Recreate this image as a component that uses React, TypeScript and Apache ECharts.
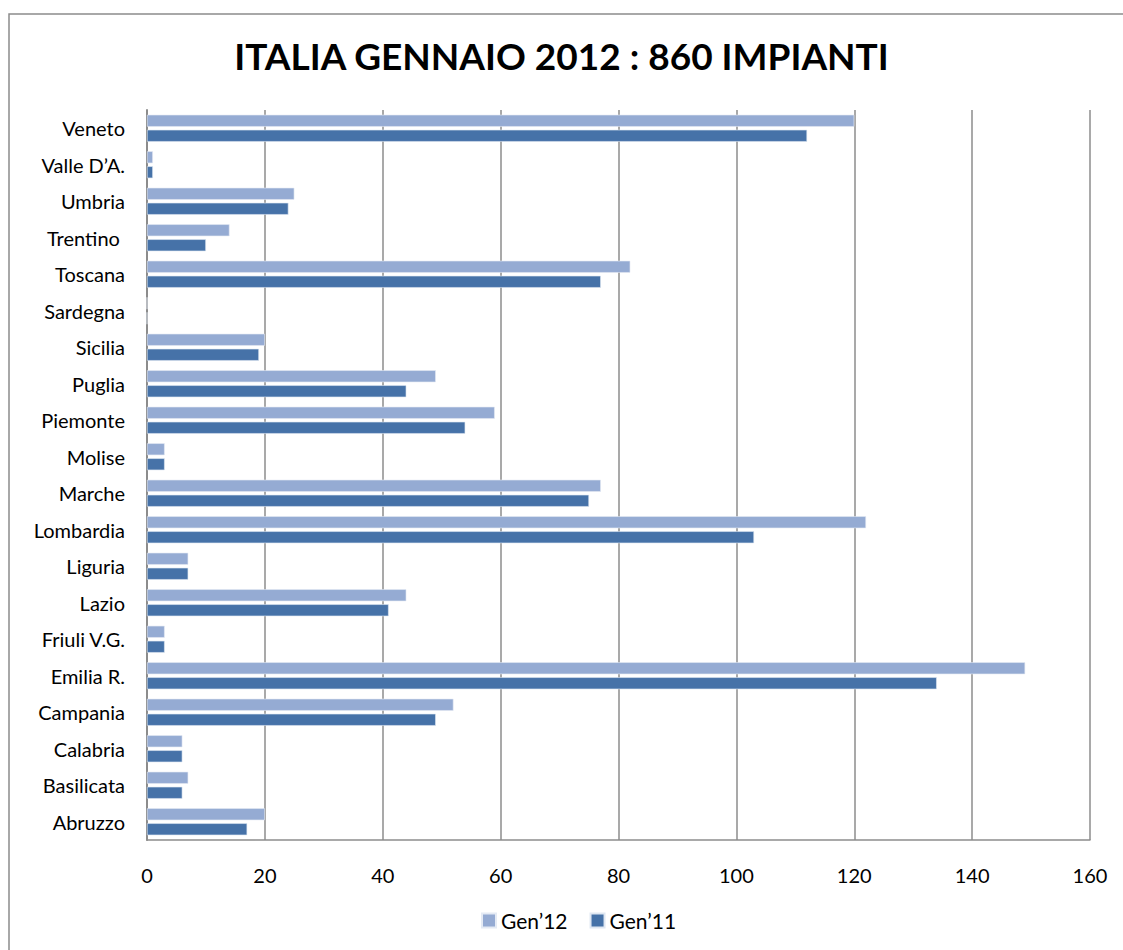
import React, { useEffect, useRef } from "react";
import * as echarts from "echarts";

const categories = [
  "Abruzzo", "Basilicata", "Calabria", "Campania", "Emilia R.", "Friuli V.G.",
  "Lazio", "Liguria", "Lombardia", "Marche", "Molise", "Piemonte", "Puglia",
  "Sicilia", "Sardegna", "Toscana", "Trentino ", "Umbria", "Valle D’A.", "Veneto",
];
const gen12 = [20, 7, 6, 52, 149, 3, 44, 7, 122, 77, 3, 59, 49, 20, 0, 82, 14, 25, 1, 120];
const gen11 = [17, 6, 6, 49, 134, 3, 41, 7, 103, 75, 3, 54, 44, 19, 0, 77, 10, 24, 1, 112];
const xTicks = { min: 0, max: 160, interval: 20 };
const seriesNames = ["Gen’12", "Gen’11"];

const FONT = "Lato, 'Open Sans', sans-serif";

export default function App() {
  const ref = useRef<HTMLDivElement>(null);
  useEffect(() => {
    document.body.style.margin = "0";
    const chart = echarts.init(ref.current!, null, { renderer: "svg" });
    chart.setOption({
      animation: false,
      backgroundColor: "#ffffff",
      textStyle: { fontFamily: FONT },
      title: {
        text: "ITALIA GENNAIO 2012 : 860 IMPIANTI",
        left: "center",
        top: 32,
        textStyle: { fontFamily: FONT, fontWeight: "bold", fontSize: 37, color: "#000" },
      },
      graphic: [
        {
          type: "rect",
          shape: { x: 9, y: 14, width: 1200, height: 1000 },
          style: { fill: "none", stroke: "#8c8c8c", lineWidth: 1.5 },
          silent: true,
        },
      ],
      legend: {
        data: seriesNames,
        bottom: 14,
        left: 476,
        itemWidth: 14,
        itemHeight: 14,
        itemGap: 22,
        icon: "rect",
        textStyle: { fontFamily: FONT, fontSize: 21, color: "#000" },
      },
      grid: { left: 147, right: 33, top: 110, bottom: 110, containLabel: false },
      xAxis: {
        type: "value",
        min: xTicks.min,
        max: xTicks.max,
        interval: xTicks.interval,
        axisLine: { show: true, lineStyle: { color: "#8c8c8c", width: 1.5 } },
        axisTick: { show: false },
        axisLabel: { margin: 25, fontFamily: FONT, fontSize: 20, color: "#000" },
        splitLine: { show: true, lineStyle: { color: "#8c8c8c", width: 1.5 } },
      },
      yAxis: {
        type: "category",
        data: categories,
        axisLine: { show: true, lineStyle: { color: "#8c8c8c", width: 2 } },
        axisTick: { show: false },
        axisLabel: { margin: 22, fontFamily: FONT, fontSize: 20, color: "#000" },
        splitLine: { show: false },
      },
      series: [
        {
          name: seriesNames[0],
          type: "bar",
          data: gen12,
          barWidth: 12,
          barGap: "25%",
          itemStyle: { color: "#95abd3", borderColor: "#e4eaf4", borderWidth: 0.6 },
        },
        {
          name: seriesNames[1],
          type: "bar",
          data: gen11,
          barWidth: 12,
          barGap: "25%",
          itemStyle: { color: "#4672a8", borderColor: "#dfe7f2", borderWidth: 0.6 },
        },
      ],
    });
    return () => chart.dispose();
  }, []);
  return <div ref={ref} style={{ width: 1123, height: 950 }} />;
}
